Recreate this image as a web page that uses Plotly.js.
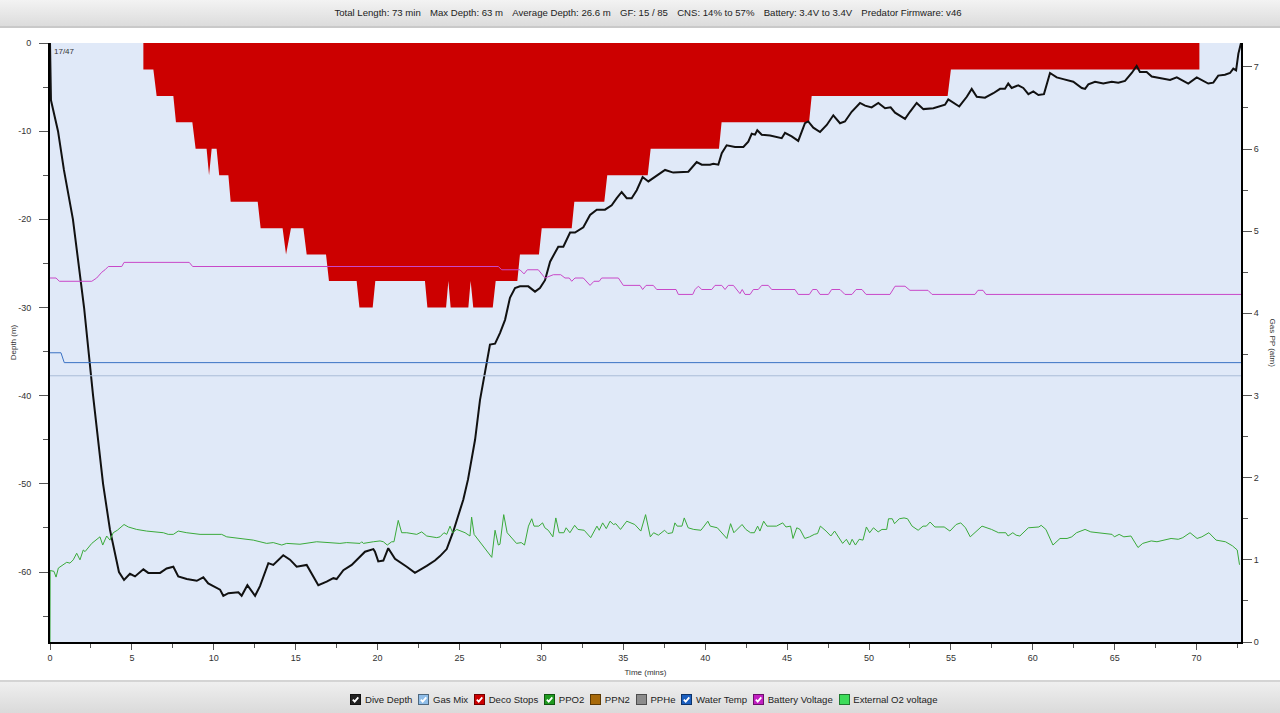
<!DOCTYPE html>
<html>
<head>
<meta charset="utf-8">
<script src="https://cdn.plot.ly/plotly-3.0.1.min.js"></script>
<style>
  html, body { margin:0; padding:0; width:1280px; height:713px; overflow:hidden; background:#fff; font-family:"Liberation Sans", Arial, sans-serif; }
  #chart { position:absolute; left:0; top:0; width:1280px; height:713px; }
  #header { position:absolute; left:0; top:0; width:1280px; height:26px; background:linear-gradient(#f3f3f3,#dcdcdc); border-bottom:2px solid #c9c9c9; text-align:center; font-size:9.6px; line-height:25px; color:#222; z-index:5; padding-left:8px; box-sizing:content-box; }
  #header span { margin:0 4.6px; }
  #footer { position:absolute; left:0; top:680px; width:1280px; height:33px; background:linear-gradient(#efefef,#dadada); border-top:2px solid #d4d4d4; box-sizing:border-box; display:flex; justify-content:center; align-items:center; padding-top:4px; padding-left:8px; font-size:9.6px; color:#222; z-index:5; }
  .item { display:flex; align-items:center; margin:0 3px; }
  .box { width:11px; height:11px; box-sizing:border-box; border:1px solid rgba(0,0,0,0.45); margin-right:3.5px; display:inline-block; }
  .box svg { display:block; }
</style>
</head>
<body>
<div id="chart"></div>
<div id="header"></div>
<div id="footer"></div>
<script>
// ---------- header / legend texts ----------
const headerItems = ["Total Length: 73 min", "Max Depth: 63 m", "Average Depth: 26.6 m", "GF: 15 / 85", "CNS: 14% to 57%", "Battery: 3.4V to 3.4V", "Predator Firmware: v46"];
const legendNames   = ["Dive Depth", "Gas Mix", "Deco Stops", "PPO2", "PPN2", "PPHe", "Water Temp", "Battery Voltage", "External O2 voltage"];
const legendColors  = ["#222222", "#8fbde8", "#cc0000", "#1f9a1f", "#a86a0a", "#8c8c8c", "#1b5fc0", "#c21fc2", "#3ddc5a"];
const legendChecked = [true, true, true, true, false, false, true, true, false];

// ---------- axis tick labels ----------
const depthTickVals = [0, -10, -20, -30, -40, -50, -60];
const depthTickText = ["0", "-10", "-20", "-30", "-40", "-50", "-60"];

// ---------- dive depth (time in min, depth in m) ----------
const depthTime = [0.00,0.06,0.49,0.85,1.40,2.08,2.63,2.93,3.24,3.66,4.21,4.52,4.88,5.19,5.70,6.00,6.72,7.12,7.53,7.83,8.35,8.96,9.36,9.66,10.38,10.58,10.89,11.50,11.70,12.05,12.52,12.82,13.33,13.63,14.24,14.65,15.06,15.67,16.38,16.89,17.30,17.50,17.91,18.42,19.23,19.74,19.84,20.04,20.35,20.65,21.06,21.78,22.28,23.00,23.50,23.81,24.22,24.62,25.03,25.23,25.52,25.95,26.25,26.56,26.86,27.17,27.47,27.78,28.08,28.39,28.69,29.20,29.61,29.91,30.22,30.53,30.83,31.03,31.34,31.75,32.05,32.56,32.97,33.38,33.88,34.29,34.60,34.90,35.21,35.51,35.82,36.18,36.53,37.04,37.55,38.05,38.97,39.48,39.79,40.29,40.50,40.80,41.01,41.31,41.82,42.33,42.63,42.84,43.04,43.18,43.45,43.96,44.67,44.87,45.28,45.68,46.09,46.29,46.60,47.01,47.42,47.82,48.23,48.53,48.94,49.45,49.76,50.16,50.57,50.98,51.32,51.59,52.20,52.50,52.91,53.32,53.93,54.64,54.84,55.51,55.97,56.27,56.58,57.08,57.59,58.00,58.30,58.50,58.71,59.11,59.42,59.73,60.03,60.34,60.68,61.05,61.25,61.46,61.86,62.47,62.99,63.19,63.39,63.80,64.30,64.82,65.22,65.63,66.04,66.34,66.54,66.95,67.26,67.77,68.38,68.79,69.09,69.49,70.01,70.31,70.71,71.02,71.32,71.73,72.04,72.24,72.41,72.55,72.71];
const depthVal  = [0,-6.5,-10.0,-14.4,-20.0,-30.0,-40.0,-45.0,-50.0,-55.2,-60.0,-60.9,-60.2,-60.5,-59.7,-60.1,-60.1,-59.6,-59.4,-60.5,-60.8,-61.0,-60.6,-61.3,-62.0,-62.7,-62.4,-62.3,-62.7,-61.5,-62.7,-61.6,-59.0,-59.2,-58.1,-58.6,-59.4,-59.2,-61.5,-61.1,-60.7,-60.8,-59.8,-59.2,-57.7,-57.4,-57.7,-58.8,-58.7,-57.3,-58.5,-59.4,-60.1,-59.3,-58.7,-58.2,-57.4,-55.4,-52.9,-51.8,-49.5,-45.0,-40.5,-37.1,-34.2,-34.1,-32.9,-31.4,-28.9,-27.8,-27.6,-27.6,-28.2,-27.8,-26.9,-24.8,-23.8,-23.1,-23.1,-21.5,-21.5,-20.9,-19.5,-18.9,-18.9,-18.4,-17.6,-16.9,-17.6,-17.6,-16.7,-15.2,-15.7,-15.1,-14.4,-14.7,-14.6,-13.5,-13.8,-13.8,-13.7,-13.8,-12.5,-11.6,-11.8,-11.8,-11.2,-10.3,-10.4,-9.9,-10.4,-10.5,-10.8,-10.2,-10.6,-11.1,-9.1,-8.9,-9.6,-10.1,-9.3,-8.2,-9.1,-8.9,-7.8,-6.8,-7.1,-7.3,-6.8,-7.4,-7.3,-7.9,-8.6,-7.8,-6.8,-7.5,-7.4,-7.0,-6.4,-7.2,-6.1,-5.2,-6.1,-6.2,-5.7,-5.2,-5.2,-4.6,-5.1,-4.8,-5.1,-5.8,-5.5,-5.9,-5.8,-3.4,-3.6,-3.9,-4.1,-4.4,-5.1,-5.2,-4.7,-4.4,-4.6,-4.4,-4.5,-4.3,-3.4,-2.6,-3.3,-3.3,-3.8,-4.0,-4.2,-3.9,-4.2,-4.6,-3.9,-4.2,-4.6,-4.5,-3.7,-3.6,-3.4,-2.9,-3.1,-1.2,0];

// ---------- deco stop ceiling (m) ----------
const decoTime  = [5.70,5.70,6.31,6.51,7.53,7.69,8.69,8.89,9.56,9.71,9.87,10.17,10.33,10.89,11.03,12.68,12.86,14.20,14.41,14.71,15.47,15.67,16.85,17.03,18.72,18.89,19.70,19.86,22.89,23.04,24.18,24.32,24.46,25.54,25.68,25.84,27.03,27.21,28.53,28.69,29.85,30.02,31.85,32.01,33.84,34.02,36.49,36.67,40.84,41.00,46.34,46.50,54.80,55.00,70.17,70.17];
const decoDepth = [0,-3,-3,-6,-6,-9,-9,-12,-12,-15,-12,-12,-15,-15,-18,-18,-21,-21,-24,-21,-21,-24,-24,-27,-27,-30,-30,-27,-27,-30,-30,-27,-30,-30,-27,-30,-30,-27,-27,-24,-24,-21,-21,-18,-18,-15,-15,-12,-12,-9,-9,-6,-6,-3,-3,0];

// ---------- PPO2 (atm) ----------
const ppo2Time = [0.00,0.01,0.24,0.37,0.51,1.02,1.22,1.42,1.63,1.83,2.03,2.14,2.55,3.05,3.22,3.46,3.66,3.86,4.11,4.52,4.78,5.29,5.90,6.92,7.22,7.53,7.83,8.35,9.16,10.48,10.79,11.60,12.41,12.82,13.23,13.63,14.15,14.45,15.26,16.28,16.89,17.70,18.11,18.93,19.03,19.13,19.74,20.15,20.35,20.59,20.86,21.00,21.26,21.47,21.78,22.39,22.69,23.00,23.61,23.81,24.05,24.22,24.42,24.58,24.83,25.34,25.64,25.74,25.89,26.97,27.17,27.37,27.47,27.70,27.91,28.48,28.77,28.97,29.21,29.41,29.55,29.84,30.07,30.21,30.42,30.70,30.88,31.08,31.37,31.51,31.74,32.03,32.23,32.61,33.01,33.39,33.53,33.74,33.96,34.19,34.40,34.54,34.83,35.21,35.70,36.07,36.36,36.65,36.85,37.14,37.52,37.72,38.00,38.15,38.29,38.58,38.72,38.96,39.30,39.74,40.16,40.31,40.74,41.03,41.32,41.55,41.75,42.25,42.48,42.77,43.00,43.20,43.34,43.57,43.77,44.35,44.73,44.93,45.21,45.36,45.59,45.79,46.08,46.37,46.66,46.86,47.03,47.38,47.67,47.90,48.19,48.39,48.62,48.82,48.97,49.17,49.40,49.63,49.84,50.04,50.27,50.56,50.79,51.08,51.19,51.42,51.56,51.85,52.14,52.35,52.63,53.00,53.30,53.50,53.73,54.02,54.59,54.94,55.32,55.60,55.89,56.18,56.90,57.48,57.91,58.35,58.49,58.78,58.98,59.21,59.73,60.37,60.51,60.80,61.23,61.66,62.09,62.38,62.67,63.19,63.54,64.40,64.84,64.98,65.27,65.56,65.99,66.42,66.71,67.23,67.58,68.44,68.88,69.16,69.60,70.03,70.32,70.75,71.19,71.76,72.19,72.48,72.62];
const ppo2Val  = [0,0.87,0.86,0.79,0.90,0.97,0.96,1.00,1.08,1.00,1.12,1.10,1.20,1.28,1.18,1.29,1.24,1.33,1.36,1.43,1.40,1.37,1.35,1.33,1.31,1.31,1.35,1.33,1.31,1.31,1.28,1.26,1.24,1.22,1.20,1.21,1.18,1.20,1.19,1.22,1.21,1.20,1.21,1.20,1.22,1.20,1.22,1.23,1.22,1.18,1.22,1.22,1.48,1.33,1.33,1.31,1.34,1.29,1.27,1.28,1.33,1.31,1.41,1.33,1.37,1.33,1.29,1.52,1.31,1.03,1.36,1.18,1.19,1.55,1.33,1.20,1.21,1.18,1.41,1.50,1.41,1.41,1.45,1.39,1.36,1.28,1.51,1.33,1.33,1.39,1.33,1.42,1.37,1.36,1.27,1.41,1.36,1.45,1.38,1.47,1.43,1.44,1.37,1.47,1.43,1.35,1.55,1.28,1.33,1.30,1.36,1.32,1.33,1.45,1.41,1.41,1.51,1.39,1.37,1.36,1.47,1.41,1.39,1.33,1.26,1.44,1.33,1.43,1.37,1.33,1.33,1.41,1.35,1.47,1.41,1.41,1.45,1.40,1.41,1.26,1.39,1.37,1.26,1.28,1.31,1.32,1.41,1.35,1.29,1.35,1.27,1.20,1.25,1.18,1.25,1.18,1.25,1.24,1.40,1.33,1.39,1.34,1.37,1.37,1.50,1.50,1.44,1.50,1.51,1.50,1.41,1.36,1.41,1.41,1.46,1.40,1.40,1.35,1.43,1.45,1.39,1.28,1.41,1.37,1.33,1.33,1.29,1.33,1.30,1.29,1.39,1.40,1.42,1.37,1.18,1.26,1.26,1.28,1.33,1.37,1.34,1.32,1.31,1.28,1.31,1.28,1.29,1.15,1.20,1.23,1.22,1.26,1.25,1.27,1.33,1.26,1.28,1.33,1.24,1.22,1.17,1.12,0.94];

// ---------- battery voltage (plotted on gas PP scale) ----------
const battTime = [0.00,0.37,0.57,2.55,2.85,3.16,3.36,3.56,4.38,4.52,8.50,8.71,27.37,27.58,28.69,28.94,29.14,29.81,30.22,30.73,31.18,31.44,31.70,31.85,32.05,32.56,32.97,33.21,33.53,33.68,34.70,35.00,36.02,36.18,36.39,36.83,37.04,38.22,38.36,39.24,39.38,39.58,39.79,40.40,40.60,41.01,41.21,41.41,41.72,41.92,42.12,42.26,42.43,42.74,42.94,43.24,43.45,43.85,44.06,45.48,45.68,46.36,46.56,46.81,47.01,47.52,47.72,48.23,48.53,48.96,49.21,49.57,49.82,51.28,51.59,52.20,52.50,53.60,53.85,56.47,56.65,56.96,57.14,72.71];
const battVal  = [4.43,4.43,4.39,4.39,4.43,4.50,4.53,4.57,4.57,4.62,4.62,4.57,4.57,4.53,4.53,4.48,4.53,4.53,4.43,4.47,4.47,4.43,4.43,4.39,4.43,4.43,4.34,4.39,4.39,4.43,4.43,4.34,4.34,4.29,4.34,4.34,4.29,4.29,4.23,4.23,4.29,4.33,4.29,4.29,4.34,4.34,4.29,4.34,4.34,4.29,4.24,4.29,4.23,4.23,4.29,4.29,4.34,4.34,4.29,4.29,4.23,4.23,4.29,4.29,4.23,4.23,4.29,4.29,4.23,4.23,4.29,4.29,4.23,4.23,4.33,4.33,4.28,4.28,4.23,4.23,4.28,4.28,4.23,4.23];

// ---------- water temp and gas mix (plotted on gas PP scale) ----------
const tempTime = [0.00,0.67,0.87,72.71];
const tempVal  = [3.52,3.52,3.40,3.40];
const mixTime  = [0.00,72.71];
const mixVal   = [3.24,3.24];

// ---------- build page text ----------
document.getElementById('header').innerHTML = headerItems.map(s => '<span>' + s + '</span>').join('');
const footer = document.getElementById('footer');
legendNames.forEach((name, i) => {
  const item = document.createElement('div');
  item.className = 'item';
  const box = document.createElement('span');
  box.className = 'box';
  box.style.background = legendColors[i];
  if (legendChecked[i]) {
    box.innerHTML = '<svg width="9" height="9" viewBox="0 0 9 9"><polyline points="1.8,4.6 3.7,6.6 7.3,2.3" fill="none" stroke="#fff" stroke-width="1.8"/></svg>';
  }
  const label = document.createElement('span');
  label.textContent = name;
  item.appendChild(box);
  item.appendChild(label);
  footer.appendChild(item);
});

// ---------- chart ----------
const traces = [
  { x: decoTime, y: decoDepth, type:'scatter', mode:'lines', fill:'tozeroy', fillcolor:'#cc0000', line:{width:0, color:'#cc0000'}, name:'Deco Stops', hoverinfo:'skip' },
  { x: depthTime, y: depthVal, type:'scatter', mode:'lines', line:{color:'#111111', width:2}, name:'Dive Depth' },
  { x: mixTime, y: mixVal, type:'scatter', mode:'lines', yaxis:'y2', line:{color:'#aabdd8', width:1}, name:'Gas Mix' },
  { x: tempTime, y: tempVal, type:'scatter', mode:'lines', yaxis:'y2', line:{color:'#3a72c4', width:1}, name:'Water Temp' },
  { x: battTime, y: battVal, type:'scatter', mode:'lines', yaxis:'y2', line:{color:'#c848c8', width:1}, name:'Battery Voltage' },
  { x: ppo2Time, y: ppo2Val, type:'scatter', mode:'lines', yaxis:'y2', line:{color:'#3aaa3a', width:1}, name:'PPO2' }
];

const tickFont = {family:'"Liberation Sans", Arial, sans-serif', size:9, color:'#333'};
const layout = {
  width:1280, height:713,
  margin:{l:50, r:39, t:43, b:71},
  paper_bgcolor:'#ffffff',
  plot_bgcolor:'#e0e9f8',
  showlegend:false,
  font:{family:'"Liberation Sans", Arial, sans-serif', size:9, color:'#333'},
  xaxis:{
    range:[0,72.71], tick0:0, dtick:5, ticks:'outside', ticklen:6, tickcolor:'#555', tickwidth:1,
    showline:true, linecolor:'#000', linewidth:2, showgrid:false, zeroline:false, tickfont:tickFont,
    minor:{dtick:2.5, ticks:'outside', ticklen:4, tickcolor:'#555', showgrid:false},
    title:{text:'Time (mins)', font:{size:8, color:'#333'}, standoff:8}
  },
  yaxis:{
    range:[-67.94,0], tickmode:'array', tickvals:depthTickVals, ticktext:depthTickText,
    ticks:'outside', ticklen:9, tickcolor:'#555', tickwidth:1,
    showline:true, linecolor:'#000', linewidth:2, showgrid:false, zeroline:false, tickfont:tickFont,
    ticklabelstandoff:6,
    minor:{tickmode:'linear', tick0:0, dtick:5, ticks:'outside', ticklen:5, tickcolor:'#555', showgrid:false},
    title:{text:'Depth (m)', font:{size:8, color:'#333'}, standoff:0}
  },
  yaxis2:{
    overlaying:'y', side:'right', range:[0,7.29], tick0:0, dtick:1, ticks:'outside', ticklen:9, tickcolor:'#555', tickwidth:1,
    showline:true, linecolor:'#000', linewidth:2, showgrid:false, zeroline:false, tickfont:tickFont,
    minor:{dtick:0.5, ticks:'outside', ticklen:5, tickcolor:'#555', showgrid:false}
  },
  annotations:[
    {text:'17/47', xref:'paper', yref:'paper', x:0, y:1, xanchor:'left', yanchor:'top', xshift:2, yshift:-2, showarrow:false, font:{size:8, color:'#333'}},
    {text:'Gas PP (atm)', xref:'paper', yref:'paper', x:1, y:0.5, xanchor:'center', yanchor:'middle', xshift:31, showarrow:false, textangle:90, font:{size:8, color:'#333'}}
  ]
};

Plotly.newPlot('chart', traces, layout, {displayModeBar:false, responsive:false});
</script>
</body>
</html>
